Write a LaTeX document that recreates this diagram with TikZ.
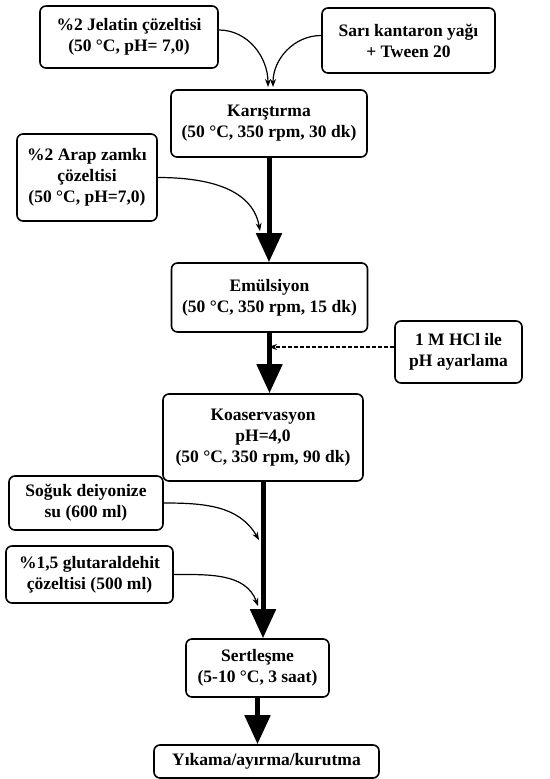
\documentclass[tikz,border=0pt]{standalone}
\usepackage{fontspec}
\setmainfont{Liberation Serif}
\usetikzlibrary{arrows.meta}
\tikzset{
  box/.style={draw, line width=1.6pt, rounded corners=6pt, align=center,
    inner sep=2pt, font=\bfseries\fontsize{17.5}{21}\selectfont},
  spine/.style={line width=5pt, -{Triangle[width=25pt,length=29pt]}},
  feed/.style={line width=1.2pt, -{Stealth[length=8pt,width=6pt]}},
}
\begin{document}
\begin{tikzpicture}[x=1pt,y=-1pt]
\useasboundingbox (0,0) rectangle (549,779);
% main steps
\node[box, minimum width=196pt, minimum height=67pt] (mix)   at (269,123.5) {Karıştırma\\(50 °C, 350 rpm, 30 dk)};
\node[box, minimum width=196pt, minimum height=69pt] (emul)  at (269.5,297.5) {Emülsiyon\\(50 °C, 350 rpm, 15 dk)};
\node[box, minimum width=200pt, minimum height=87pt] (coac)  at (263,437.5) {Koaservasyon\\pH=4,0\\(50 °C, 350 rpm, 90 dk)};
\node[box, minimum width=143pt, minimum height=58pt] (hard)  at (257.5,668) {Sertleşme\\(5-10 °C, 3 saat)};
\node[box, minimum width=225pt, minimum height=33pt] (wash)  at (266.5,761.5) {Yıkama/ayırma/kurutma};
% inputs
\node[box, minimum width=178pt, minimum height=62pt] (gel)   at (129,37) {\%2 Jelatin çözeltisi\\(50 °C, pH= 7,0)};
\node[box, minimum width=173pt, minimum height=65pt] (oil)   at (408.5,40.5) {Sarı kantaron yağı\\+ Tween 20};
\node[box, minimum width=140pt, minimum height=87pt] (gum)   at (87,177.5) {\%2 Arap zamkı\\çözeltisi\\(50 °C, pH=7,0)};
\node[box, minimum width=127pt, minimum height=62pt] (hcl)   at (458.5,352) {1 M HCl ile\\pH ayarlama};
\node[box, minimum width=154pt, minimum height=54pt] (water) at (86,503) {Soğuk deiyonize\\su (600 ml)};
\node[box, minimum width=167pt, minimum height=57pt] (glut)  at (89.5,574.5) {\%1,5 glutaraldehit\\çözeltisi (500 ml)};
% arrow ends
\coordinate (gelend)   at (268,87);
\coordinate (oilend)   at (273,87);
\coordinate (gumend)   at (260,231);
\coordinate (hclend)   at (269,347);
\coordinate (waterend) at (259,540);
\coordinate (glutend)  at (258,606);
% spine
\draw[spine] (mix.south)  -- (mix.south |- emul.north);
\draw[spine] (emul.south) -- (emul.south |- coac.north);
\draw[spine] (coac.south) -- (coac.south |- hard.north);
\draw[spine] (hard.south) -- (hard.south |- wash.north);
% feeds
\draw[feed] ([yshift=7pt]gel.east) to[out=0,in=90] (gelend);
\draw[feed] ([yshift=5pt]oil.west) to[out=180,in=90] (oilend);
\draw[feed] (gum.east) to[out=0,in=100] (gumend);
\draw[feed] (water.east) to[out=0,in=120] (waterend);
\draw[feed] (glut.east) to[out=0,in=110] (glutend);
\draw[feed, dash pattern=on 4pt off 2pt] ([yshift=5pt]hcl.west) -- (hclend);
\end{tikzpicture}
\end{document}
